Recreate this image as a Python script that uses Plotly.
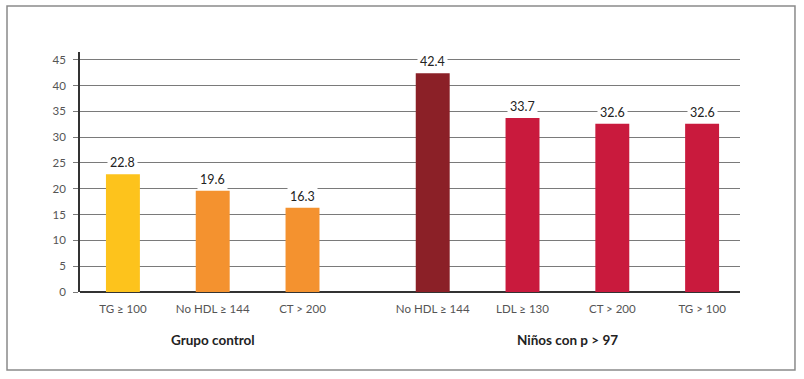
import plotly.graph_objects as go

categories = ["TG ≥ 100", "No HDL ≥ 144", "CT > 200",
              "No HDL ≥ 144", "LDL ≥ 130", "CT > 200", "TG > 100"]
positions = [0, 1, 2, 3.45, 4.45, 5.45, 6.45]
values = [22.8, 19.6, 16.3, 42.4, 33.7, 32.6, 32.6]
labels = ["22.8", "19.6", "16.3", "42.4", "33.7", "32.6", "32.6"]
colors = ["#FDC31C", "#F4922F", "#F4922F", "#8B2027", "#C91A3D", "#C91A3D", "#C91A3D"]
groups = ["Grupo control", "Niños con p > 97"]
group_pos = [1, 4.95]
yticks = [0, 5, 10, 15, 20, 25, 30, 35, 40, 45]

fig = go.Figure()
fig.add_trace(go.Bar(x=positions, y=values, marker_color=colors,
                     marker_line_width=0, width=0.378, hoverinfo="skip"))

for x, v, t in zip(positions, values, labels):
    fig.add_annotation(x=x, y=v, text=t, showarrow=False, yanchor="bottom",
                       yshift=1, bgcolor="white", borderpad=2,
                       font=dict(size=12.5, color="#222"))

for g, gx in zip(groups, group_pos):
    fig.add_annotation(x=gx, y=-0.2, yref="paper", yanchor="middle",
                       text="<b>" + g + "</b>",
                       showarrow=False, font=dict(size=13.5, color="#222"))

fig.add_shape(type="rect", xref="paper", yref="paper",
              x0=-0.1106, x1=1.0833, y0=-0.325, y1=1.1917,
              line=dict(color="#8a8a8a", width=1.5))

fig.update_layout(
    width=804, height=379,
    margin=dict(l=80, r=64, t=52, b=87),
    plot_bgcolor="white", paper_bgcolor="white",
    font=dict(family="Lato, Open Sans, sans-serif", color="#444"),
    showlegend=False,
    xaxis=dict(range=[-0.478, 6.872], tickvals=positions, ticktext=categories,
               showgrid=False, zeroline=False, showline=False,
               ticks="", ticklabelstandoff=8,
               tickfont=dict(size=11.5, color="#555")),
    yaxis=dict(range=[0, 46.5], tickvals=yticks, showgrid=True,
               gridcolor="#7a7a7a", gridwidth=1.2, zeroline=True,
               zerolinecolor="#333", zerolinewidth=1.5,
               showline=True, linecolor="#333", linewidth=1.5,
               ticks="outside", ticklen=5, tickcolor="#7a7a7a",
               ticklabelstandoff=5,
               tickfont=dict(size=11.5, color="#555")),
)

fig.write_html("out.html", config={"displayModeBar": False},
               post_script="document.body.style.margin='0';")
